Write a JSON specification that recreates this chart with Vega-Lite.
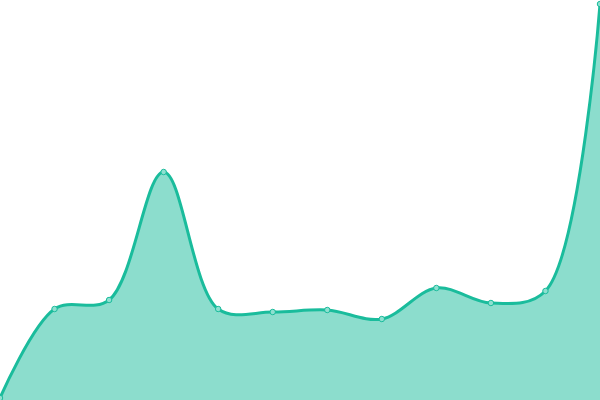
{
  "$schema": "https://vega.github.io/schema/vega-lite/v6.json",
  "autosize": {"type": "fit", "contains": "padding"},
  "width": 600,
  "height": 400,
  "padding": 0,
  "background": "white",
  "config": {"view": {"stroke": null}},
  "data": {"values": [
    {"i": 0, "v": 2},
    {"i": 1, "v": 91},
    {"i": 2, "v": 100},
    {"i": 3, "v": 228},
    {"i": 4, "v": 91},
    {"i": 5, "v": 88},
    {"i": 6, "v": 90},
    {"i": 7, "v": 81},
    {"i": 8, "v": 112},
    {"i": 9, "v": 97},
    {"i": 10, "v": 109},
    {"i": 11, "v": 396}
  ]},
  "encoding": {
    "x": {"field": "i", "type": "quantitative", "scale": {"domain": [0, 11], "nice": false, "zero": false}, "axis": null},
    "y": {"field": "v", "type": "quantitative", "scale": {"domain": [0, 400], "nice": false}, "axis": null}
  },
  "layer": [
    {"mark": {"type": "area", "interpolate": "catmull-rom", "color": "#1abc9c", "opacity": 0.5, "clip": true}},
    {"mark": {"type": "line", "interpolate": "catmull-rom", "color": "#1abc9c", "strokeWidth": 3, "clip": true}},
    {"mark": {"type": "point", "filled": true, "fill": "#8ee0d0", "stroke": "#1abc9c", "strokeWidth": 1, "size": 30, "opacity": 1, "clip": true}}
  ]
}
